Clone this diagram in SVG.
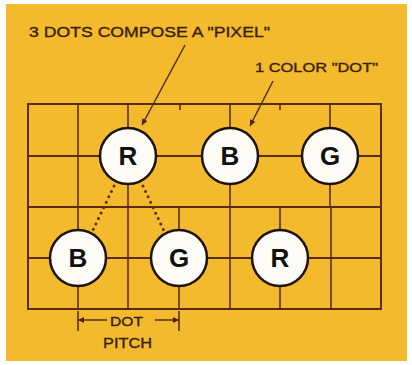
<svg xmlns="http://www.w3.org/2000/svg" width="412" height="365" viewBox="0 0 412 365">
<defs>
<style>
.grid{stroke:#5a2c12;stroke-width:1.6;fill:none}
.gridh{stroke:#5a2c12;stroke-width:2;fill:none}
.dot circle{fill:#fdfcf6;stroke:#1c140c;stroke-width:2.5}
.dot text{font-family:"Liberation Sans",Arial,sans-serif;font-weight:bold;font-size:26px;fill:#111;text-anchor:middle}
.lbl{font-family:"Liberation Sans",Arial,sans-serif;fill:#3a1f0a;stroke:#3a1f0a;stroke-width:0.35}
.lead{stroke:#5a2c12;stroke-width:1.5;fill:none}
.dotted{stroke:#5a2c12;stroke-width:3;stroke-linecap:round;stroke-dasharray:0 6;fill:none}
</style>
<marker id="ah" viewBox="0 0 10 10" refX="10" refY="5" markerWidth="7" markerHeight="6" orient="auto" markerUnits="userSpaceOnUse">
<path d="M0,0 L10,5 L0,10 Z" fill="#4a2410"/>
</marker>
</defs>
<rect x="0" y="0" width="412" height="365" fill="#ffffff"/>
<rect x="6" y="4" width="401" height="357" fill="#f3ba2e"/>

<g id="grid">
<rect class="gridh" x="28" y="104" width="353" height="205"/>
<line class="gridh" x1="28" y1="156" x2="381" y2="156"/>
<line class="gridh" x1="28" y1="207" x2="381" y2="207"/>
<line class="gridh" x1="28" y1="258" x2="381" y2="258"/>
<line class="grid" x1="78" y1="104" x2="78" y2="207"/>
<line class="grid" x1="128" y1="104" x2="128" y2="207"/>
<line class="grid" x1="230" y1="104" x2="230" y2="207"/>
<line class="grid" x1="330" y1="104" x2="330" y2="207"/>
<line class="grid" x1="180" y1="104" x2="180" y2="110"/>
<line class="grid" x1="280" y1="104" x2="280" y2="110"/>
<line class="grid" x1="78" y1="207" x2="78" y2="309"/>
<line class="grid" x1="128" y1="207" x2="128" y2="309"/>
<line class="grid" x1="179" y1="207" x2="179" y2="309"/>
<line class="grid" x1="230" y1="207" x2="230" y2="309"/>
<line class="grid" x1="280" y1="207" x2="280" y2="309"/>
<line class="grid" x1="331" y1="207" x2="331" y2="309"/>
</g>

<g id="connectors">
<line class="lead" x1="185" y1="45" x2="142" y2="125" marker-end="url(#ah)"/>
<line class="lead" x1="273" y1="81" x2="250" y2="126" marker-end="url(#ah)"/>
<line class="dotted" x1="114" y1="186" x2="92" y2="232"/>
<line class="dotted" x1="143" y1="186" x2="164" y2="231"/>
<line class="grid" x1="78" y1="311" x2="78" y2="331"/>
<line class="grid" x1="179" y1="311" x2="179" y2="331"/>
<line class="lead" x1="107" y1="320" x2="78" y2="320" marker-end="url(#ah)"/>
<line class="lead" x1="155" y1="320" x2="179" y2="320" marker-end="url(#ah)"/>
</g>

<g id="dot-r1" class="dot"><circle cx="128" cy="156" r="28"/><text x="128" y="165">R</text></g>
<g id="dot-b1" class="dot"><circle cx="230" cy="156" r="28"/><text x="230" y="165">B</text></g>
<g id="dot-g1" class="dot"><circle cx="330" cy="156" r="28"/><text x="330" y="165">G</text></g>
<g id="dot-b2" class="dot"><circle cx="78" cy="258" r="28"/><text x="78" y="267">B</text></g>
<g id="dot-g2" class="dot"><circle cx="179" cy="258" r="28"/><text x="179" y="267">G</text></g>
<g id="dot-r2" class="dot"><circle cx="280" cy="258" r="28"/><text x="280" y="267">R</text></g>

<g id="labels">
<text class="lbl" x="29" y="37" font-size="14" textLength="241" lengthAdjust="spacingAndGlyphs">3 DOTS COMPOSE A "PIXEL"</text>
<text class="lbl" x="255" y="72" font-size="13" textLength="123" lengthAdjust="spacingAndGlyphs">1 COLOR "DOT"</text>
<text class="lbl" x="110" y="326" font-size="13" textLength="33" lengthAdjust="spacingAndGlyphs">DOT</text>
<text class="lbl" x="103" y="348" font-size="14" textLength="49" lengthAdjust="spacingAndGlyphs">PITCH</text>
</g>
</svg>
